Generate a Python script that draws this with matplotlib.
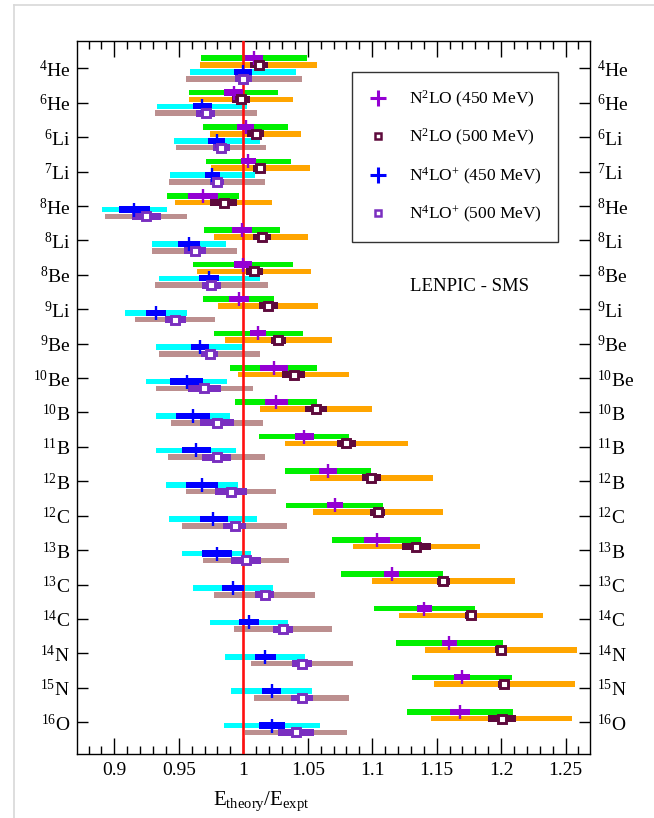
import matplotlib
matplotlib.use("Agg")
import matplotlib.pyplot as plt
from matplotlib.lines import Line2D
import numpy as np

plt.rcParams['font.family'] = ['Liberation Serif', 'DejaVu Serif']
plt.rcParams['mathtext.fontset'] = 'custom'
plt.rcParams['mathtext.rm'] = 'Liberation Serif'
plt.rcParams['mathtext.it'] = 'Liberation Serif:italic'
plt.rcParams['mathtext.bf'] = 'Liberation Serif:bold'

# ---------------- data ----------------
mass = ["4", "6", "6", "7", "8", "8", "8", "9", "9", "10", "10", "11", "12", "12", "13", "13", "14", "14", "15", "16"]
elem = ["He", "He", "Li", "Li", "He", "Li", "Be", "Li", "Be", "Be", "B", "B", "B", "C", "B", "C", "C", "N", "N", "O"]

# N2LO (450 MeV): green band, purple cross
n2lo450_c = [1.008, 0.9925, 1.002, 1.004, 0.9687, 0.999, 1.000, 0.9966, 1.0114, 1.0237,
             1.0257, 1.0472, 1.0656, 1.071, 1.1035, 1.1152, 1.1405, 1.1599, 1.1698, 1.1682]
n2lo450_lo = [0.9674, 0.9578, 0.9687, 0.9712, 0.9407, 0.9697, 0.9611, 0.9684, 0.9772, 0.9898,
              0.9939, 1.0124, 1.0324, 1.0331, 1.0691, 1.0758, 1.1014, 1.1183, 1.131, 1.1271]
n2lo450_hi = [1.0492, 1.0272, 1.035, 1.037, 0.9969, 1.0282, 1.0386, 1.0241, 1.0464, 1.0575,
              1.0575, 1.0822, 1.0991, 1.1087, 1.1379, 1.1548, 1.1799, 1.2013, 1.2086, 1.2096]
n2lo450_ilo = [1.0013, 0.9852, 0.9953, 0.9984, 0.957, 0.9909, 0.993, 0.9891, 1.0052, 1.013,
               1.017, 1.04, 1.0587, 1.065, 1.0937, 1.1095, 1.1351, 1.1542, 1.1636, 1.1605]
n2lo450_ihi = [1.0153, 0.9997, 1.0085, 1.0101, 0.9803, 1.007, 1.007, 1.0041, 1.0179, 1.0345,
               1.0345, 1.0546, 1.0725, 1.0773, 1.1136, 1.1211, 1.1462, 1.1656, 1.176, 1.176]

# N2LO (500 MeV): orange band, maroon square
n2lo500_c = [1.0119, 0.998, 1.0096, 1.0127, 0.9847, 1.0142, 1.0083, 1.0194, 1.0272, 1.039,
             1.0565, 1.080, 1.0994, 1.1046, 1.1343, 1.1553, 1.1768, 1.1998, 1.2024, 1.2006]
n2lo500_lo = [0.9668, 0.958, 0.9744, 0.9746, 0.9469, 0.9775, 0.964, 0.9806, 0.9855, 0.996,
              1.013, 1.0324, 1.052, 1.0538, 1.0854, 1.0999, 1.1211, 1.141, 1.148, 1.1454]
n2lo500_hi = [1.057, 1.0386, 1.0448, 1.0516, 1.0223, 1.0505, 1.0528, 1.0578, 1.0692, 1.082,
              1.1002, 1.1276, 1.147, 1.1553, 1.1835, 1.2109, 1.2327, 1.2588, 1.2572, 1.2554]
n2lo500_ilo = [1.0052, 0.9915, 1.003, 1.0075, 0.9741, 1.0075, 1.0018, 1.0124, 1.0212, 1.0303,
               1.0482, 1.073, 1.0924, 1.0986, 1.1229, 1.1501, 1.1721, 1.1954, 1.1975, 1.1897]
n2lo500_ihi = [1.0189, 1.0052, 1.016, 1.0179, 0.9953, 1.0218, 1.015, 1.0267, 1.0334, 1.0477,
               1.0652, 1.0872, 1.1066, 1.1102, 1.146, 1.1605, 1.1817, 1.2045, 1.207, 1.2114]

# N4LO+ (450 MeV): cyan band, blue cross
n4lo450_c = [1.000, 0.9681, 0.9793, 0.9759, 0.9155, 0.9578, 0.9733, 0.9324, 0.9663, 0.956,
             0.9609, 0.9635, 0.9679, 0.9769, 0.9798, 0.992, 1.0044, 1.0171, 1.022, 1.022]
n4lo450_lo = [0.959, 0.9334, 0.9459, 0.943, 0.8902, 0.9295, 0.9345, 0.908, 0.9321, 0.9246,
              0.9321, 0.9326, 0.9402, 0.9425, 0.9528, 0.9609, 0.9738, 0.9858, 0.9907, 0.9847]
n4lo450_hi = [1.0407, 1.0028, 1.013, 1.0088, 0.9409, 0.9865, 1.0127, 0.9567, 1.0003, 0.9873,
              0.9896, 0.994, 0.9959, 1.0109, 1.0062, 1.0231, 1.035, 1.0479, 1.0536, 1.0596]
n4lo450_ilo = [0.993, 0.9609, 0.973, 0.9702, 0.9036, 0.9495, 0.9658, 0.9244, 0.9593, 0.943,
               0.9479, 0.9523, 0.9554, 0.9663, 0.9679, 0.9832, 0.9964, 1.0088, 1.0148, 1.0122]
n4lo450_ihi = [1.007, 0.9754, 0.986, 0.9816, 0.9277, 0.9663, 0.9808, 0.9404, 0.9736, 0.9689,
               0.9741, 0.9746, 0.9806, 0.9878, 0.9915, 1.0005, 1.0124, 1.0254, 1.0293, 1.0321]

# N4LO+ (500 MeV): rosy-brown band, purple square
n4lo500_c = [1.000, 0.9707, 0.9826, 0.9795, 0.9246, 0.9622, 0.9751, 0.9472, 0.9738, 0.9697,
             0.9795, 0.9793, 0.9904, 0.9933, 1.0021, 1.0166, 1.0308, 1.0456, 1.0456, 1.0409]
n4lo500_lo = [0.9552, 0.9316, 0.9479, 0.9425, 0.893, 0.9295, 0.9316, 0.9163, 0.9347, 0.9324,
              0.9438, 0.9417, 0.9554, 0.9528, 0.9689, 0.9775, 0.9925, 1.0057, 1.0083, 1.001]
n4lo500_hi = [1.0453, 1.0104, 1.0179, 1.0168, 0.9567, 0.9953, 1.0189, 0.9777, 1.0127, 1.0073,
              1.0153, 1.0166, 1.0256, 1.0337, 1.0355, 1.056, 1.0692, 1.0855, 1.0824, 1.0808]
n4lo500_ilo = [0.9935, 0.9637, 0.9764, 0.9738, 0.9137, 0.9541, 0.9679, 0.9391, 0.9674, 0.9573,
               0.9666, 0.9681, 0.9782, 0.9842, 0.9907, 1.0093, 1.0228, 1.0376, 1.037, 1.0267]
n4lo500_ihi = [1.007, 0.9777, 0.9894, 0.985, 0.9358, 0.9707, 0.9826, 0.9552, 0.9803, 0.9826,
               0.9925, 0.9904, 1.0031, 1.0023, 1.0137, 1.0238, 1.0389, 1.0536, 1.0541, 1.0552]

labels = [r"$^{%s}$%s" % (m, e) for m, e in zip(mass, elem)]
x_ticks = [0.9, 0.95, 1.0, 1.05, 1.1, 1.15, 1.2, 1.25]
x_ticklabels = ["0.9", "0.95", "1", "1.05", "1.1", "1.15", "1.2", "1.25"]

# ---------------- figure ----------------
W, H = 654, 818
fig = plt.figure(figsize=(W / 100, H / 100), dpi=100)
ax_l, ax_r, ax_t, ax_b = 77, 590, 41, 754
ax = fig.add_axes([ax_l / W, 1 - ax_b / H, (ax_r - ax_l) / W, (ax_b - ax_t) / H])

y = np.arange(len(labels))

series = [
    # (center, lo, hi, ilo, ihi, offset, band color, inner color, marker)
    (n2lo450_c, n2lo450_lo, n2lo450_hi, n2lo450_ilo, n2lo450_ihi, -0.3, "#00f000", "#9400d3", "plus"),
    (n2lo500_c, n2lo500_lo, n2lo500_hi, n2lo500_ilo, n2lo500_ihi, -0.1, "#ffa500", "#5e0a3c", "square"),
    (n4lo450_c, n4lo450_lo, n4lo450_hi, n4lo450_ilo, n4lo450_ihi, 0.1, "#00ffff", "#0000ff", "plus"),
    (n4lo500_c, n4lo500_lo, n4lo500_hi, n4lo500_ilo, n4lo500_ihi, 0.3, "#bc8f8f", "#7a2fc0", "square"),
]

band_h = 0.165
for c, lo, hi, ilo, ihi, off, bc, ic, mk in series:
    c, lo, hi, ilo, ihi = map(np.asarray, (c, lo, hi, ilo, ihi))
    yy = y + off
    ax.barh(yy, hi - lo, left=lo, height=band_h, color=bc, edgecolor="none", zorder=2)
    ih = 0.18 if mk == "plus" else 0.2
    ax.barh(yy, ihi - ilo, left=ilo, height=ih, color=ic, edgecolor="none", zorder=4)
    if mk == "plus":
        ax.plot(c, yy, linestyle="none", marker="|", markersize=9.5, markeredgewidth=1.7,
                color=ic, zorder=5)
    else:
        ax.plot(c, yy, linestyle="none", marker="s", markersize=5.4, markeredgewidth=2.1,
                markerfacecolor="white", markeredgecolor=ic, zorder=5)

ax.axvline(1.0, color="#ff1010", linewidth=1.9, zorder=3)

ax.set_xlim(0.871, 1.269)
ax.set_ylim((ax_b - 68.5) / 34.4, (ax_t - 68.5) / 34.4)

ax.set_xticks(x_ticks)
ax.set_xticklabels(x_ticklabels)
ax.set_xticks(np.arange(0.88, 1.27, 0.01), minor=True)
ax.set_yticks(y)
ax.set_yticklabels(labels)
ax.tick_params(axis="x", which="major", direction="in", length=11.5, width=1.0,
               top=True, bottom=True, labelsize=14, pad=6)
ax.tick_params(axis="x", which="minor", direction="in", length=5.8, width=1.0,
               top=True, bottom=True)
ax.tick_params(axis="y", which="major", direction="in", length=8, width=1.0,
               left=True, right=True, labelleft=True, labelright=True, labelsize=14, pad=5)
for s in ax.spines.values():
    s.set_linewidth(1.0)

ax.set_xlabel(r"E$_{\mathrm{theory}}$/E$_{\mathrm{expt}}$", fontsize=15)
ax.xaxis.set_label_coords(0.36, -0.05)

ax.text(0.766, 0.655, "LENPIC - SMS", transform=ax.transAxes, ha="center", va="center",
        fontsize=13.5)

handles = [
    Line2D([], [], linestyle="none", marker="+", markersize=11, markeredgewidth=2.2, color="#9400d3"),
    Line2D([], [], linestyle="none", marker="s", markersize=5, markeredgewidth=1.8,
           markerfacecolor="white", markeredgecolor="#5e0a3c"),
    Line2D([], [], linestyle="none", marker="+", markersize=11, markeredgewidth=2.2, color="#0000ff"),
    Line2D([], [], linestyle="none", marker="s", markersize=5, markeredgewidth=1.8,
           markerfacecolor="white", markeredgecolor="#7a2fc0"),
]
leg_labels = [r"N$^{2}$LO (450 MeV)", r"N$^{2}$LO (500 MeV)",
              r"N$^{4}$LO$^{+}$ (450 MeV)", r"N$^{4}$LO$^{+}$ (500 MeV)"]
leg = ax.legend(handles, leg_labels, loc="upper left", bbox_to_anchor=(0.537, 0.956),
                fontsize=12.5, frameon=True, fancybox=False, edgecolor="black",
                labelspacing=1.0, handlelength=1.0, handletextpad=1.3, borderpad=0.95,
                borderaxespad=0.0)
leg.get_frame().set_linewidth(1.0)
leg.set_zorder(10)

# light screenshot frame
fig.add_artist(Line2D([14 / W, 14 / W], [0, 1 - 5 / H], color="#d8d8d8", linewidth=1.2))
fig.add_artist(Line2D([14 / W, 1], [1 - 5 / H, 1 - 5 / H], color="#d8d8d8", linewidth=1.2))

fig.savefig("out.png", dpi=100)
